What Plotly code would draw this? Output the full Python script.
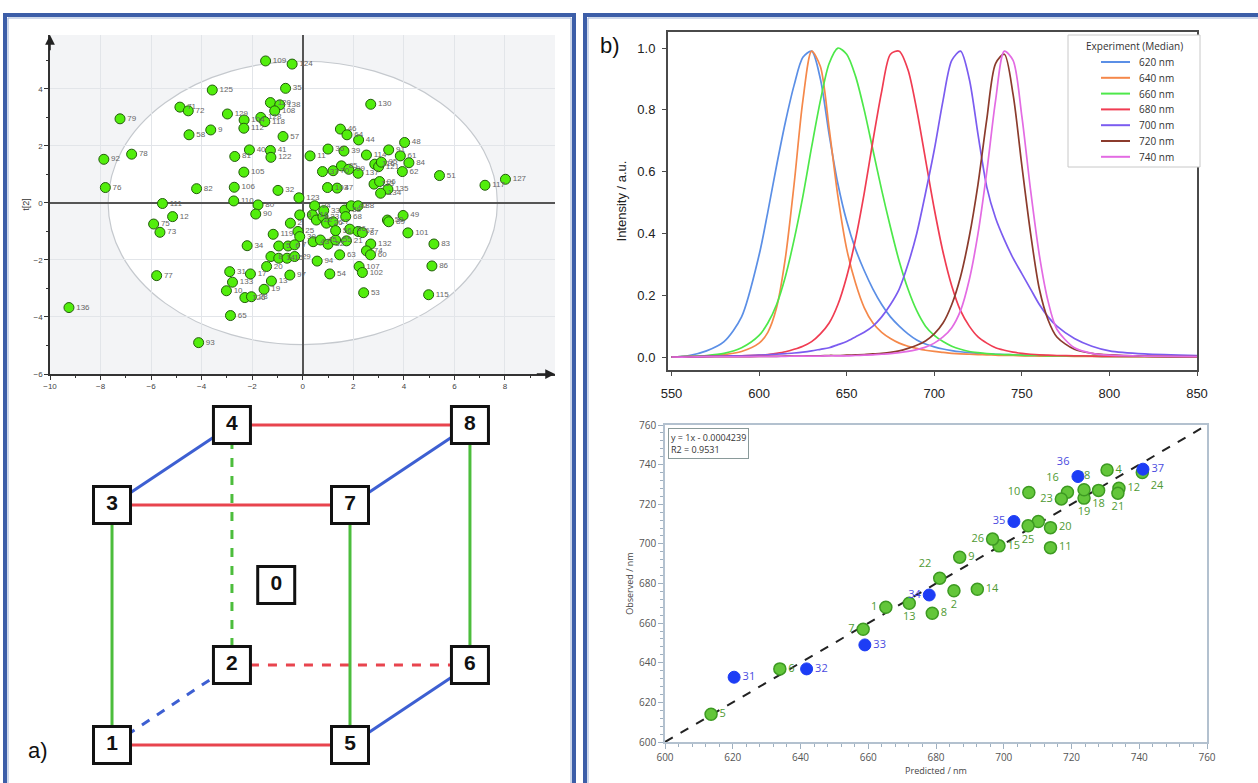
import plotly.graph_objects as go

W, H = 1258, 783
FONT = "Liberation Sans, Arial, sans-serif"
FONT2 = "Open Sans, Liberation Sans, sans-serif"

# ---------------- Panel a (top): PCA score plot ----------------
score_id = ['109', '124', '125', '35', '79', '71', '72', '129', '104', '128', '118', '120', '138', '108',
            '112', '58', '9', '57', '40', '41', '122', '81', '92', '78', '105', '76', '82', '106', '32',
            '110', '111', '80', '90', '12', '75', '73', '34', '119', '77', '31', '17', '133', '10', '126',
            '28', '19', '13', '20', '136', '65', '93', '97',
            '2', '3', '25', '30', '5', '6', '7', '8', '14', '15', '29',
            '123', '24', '16', '22', '23', '26', '27', '33', '38', '68', '42', '88', '43', '45', '52', '55',
            '56', '21', '66', '67', '87', '63', '132', '74', '60', '94', '54', '107', '102', '53', '50',
            '89', '49', '101', '83', '86', '115',
            '130', '46', '64', '44', '48', '11', '36', '39', '114', '91', '61', '84', '62', '116', '121',
            '95', '37', '70', '85', '99', '137', '51', '117', '127', '103', '47', '113', '96', '135', '134']
score_t1 = [-1.47, -0.42, -3.58, -0.68, -7.23, -4.86, -4.53, -2.98, -2.32, -1.66, -1.50, -1.28, -0.91, -1.11,
            -2.33, -4.50, -3.64, -0.78, -2.11, -1.28, -1.26, -2.69, -7.87, -6.77, -2.33, -7.81, -4.20, -2.71,
            -0.98, -2.73, -5.55, -1.77, -1.86, -5.15, -5.90, -5.65, -2.20, -1.17, -5.78, -2.89, -2.07, -2.78,
            -3.02, -2.29, -2.03, -1.53, -1.24, -1.43, -9.25, -2.86, -4.12, -0.51,
            -0.49, -0.12, -0.19, -0.12, -0.95, -0.58, -0.32, -1.26, -0.95, -0.62, -0.32,
            -0.15, 0.47, 0.38, 0.54, 0.80, 0.94, 1.20, 0.83, 1.66, 1.70, 1.92, 2.19, 0.41, 0.70, 1.00, 1.30,
            1.30, 1.73, 1.86, 2.19, 2.36, 1.46, 2.69, 2.52, 2.68, 0.57, 1.07, 2.23, 2.36, 2.41, 3.35,
            3.40, 3.97, 4.16, 5.19, 5.11, 4.98,
            2.69, 1.49, 1.75, 2.21, 4.03, 0.29, 1.00, 1.63, 2.52, 3.40, 3.86, 4.20, 3.94, 2.85, 3.00,
            3.11, 0.78, 1.20, 1.53, 1.82, 2.19, 5.41, 7.21, 8.02, 0.98, 1.36, 2.82, 3.04, 3.37, 3.08]
score_t2 = [4.98, 4.87, 3.96, 4.02, 2.95, 3.36, 3.23, 3.12, 2.91, 3.00, 2.85, 3.52, 3.44, 3.23,
            2.62, 2.39, 2.56, 2.33, 1.86, 1.84, 1.60, 1.63, 1.53, 1.71, 1.08, 0.54, 0.50, 0.55,
            0.44, 0.07, -0.02, -0.07, -0.39, -0.48, -0.74, -1.03, -1.50, -1.10, -2.55, -2.41, -2.49, -2.78,
            -3.08, -3.32, -3.29, -3.03, -2.74, -2.23, -3.67, -3.95, -4.90, -2.53,
            -0.71, -0.42, -1.00, -1.18, -1.51, -1.51, -1.47, -1.88, -1.94, -1.94, -1.88,
            0.18, -0.10, -0.42, -0.60, -0.48, -0.71, -0.66, -0.27, -0.25, -0.48, -0.10, -0.10, -1.36, -1.30,
            -1.45, -1.30, -0.97, -1.33, -0.92, -1.00, -1.04, -1.82, -1.44, -1.68, -1.82, -2.04, -2.49, -2.23,
            -2.44, -3.15, -0.60, -0.66, -0.44, -1.05, -1.44, -2.21, -3.22,
            3.46, 2.59, 2.39, 2.21, 2.12, 1.65, 1.89, 1.82, 1.68, 1.86, 1.65, 1.41, 1.10, 1.36, 1.27,
            1.43, 1.10, 1.13, 1.30, 1.18, 1.04, 0.96, 0.62, 0.83, 0.54, 0.52, 0.66, 0.75, 0.48, 0.34]
score_xticks = [-10, -8, -6, -4, -2, 0, 2, 4, 6, 8]
score_yticks = [-6, -4, -2, 0, 2, 4]
ellipse_t1 = 7.7   # Hotelling T2 semi-axes
ellipse_t2 = 4.97

# ---------------- Panel a (bottom): design cube ----------------
cube_run = ['1', '2', '3', '4', '5', '6', '7', '8', '0']
cube_px = [0, 0.504, 0, 0.504, 1, 1.504, 1, 1.504, 0.69]
cube_py = [0, 0.333, 1, 1.333, 0, 0.333, 1, 1.333, 0.667]
edge_from = ['4', '3', '1', '2', '3', '7', '5', '1', '1', '5', '6', '2']
edge_to = ['8', '7', '5', '6', '4', '8', '6', '2', '3', '7', '8', '4']
edge_kind = ['red', 'red', 'red', 'red', 'blue', 'blue', 'blue', 'blue', 'green', 'green', 'green', 'green']
edge_dash = ['solid', 'solid', 'solid', 'dash', 'solid', 'solid', 'solid', 'dash', 'solid', 'solid', 'solid', 'dash']

# ---------------- Panel b (top): emission spectra ----------------
wl = [550, 560, 570, 580, 590, 600, 605, 610, 615, 620, 625, 630, 635, 640, 645, 650, 655, 660, 665, 670,
      675, 680, 685, 690, 695, 700, 705, 710, 715, 720, 725, 730, 735, 740, 745, 750, 755, 760, 765, 770,
      780, 790, 800, 820, 850]
spec_names = ['620 nm', '640 nm', '660 nm', '680 nm', '700 nm', '720 nm', '740 nm']
spec_620 = [0.0, 0.005, 0.02, 0.05, 0.13, 0.33, 0.47, 0.62, 0.76, 0.88, 0.97, 0.99, 0.90, 0.72, 0.56, 0.44,
            0.35, 0.28, 0.22, 0.17, 0.13, 0.10, 0.075, 0.055, 0.042, 0.033, 0.026, 0.021, 0.017, 0.014, 0.012,
            0.010, 0.009, 0.008, 0.007, 0.006, 0.005, 0.005, 0.004, 0.004, 0.003, 0.003, 0.002, 0.002, 0.001]
spec_640 = [0.0, 0.002, 0.004, 0.008, 0.018, 0.045, 0.08, 0.16, 0.32, 0.56, 0.83, 0.99, 0.94, 0.74, 0.52, 0.35,
            0.24, 0.16, 0.11, 0.08, 0.06, 0.045, 0.035, 0.028, 0.022, 0.018, 0.015, 0.012, 0.010, 0.009, 0.008,
            0.007, 0.006, 0.005, 0.005, 0.004, 0.004, 0.003, 0.003, 0.003, 0.002, 0.002, 0.002, 0.001, 0.001]
spec_660 = [0.0, 0.002, 0.005, 0.012, 0.03, 0.07, 0.11, 0.17, 0.26, 0.38, 0.52, 0.68, 0.83, 0.95, 1.0, 0.98,
            0.91, 0.80, 0.67, 0.54, 0.42, 0.31, 0.22, 0.15, 0.10, 0.07, 0.05, 0.035, 0.025, 0.018, 0.014,
            0.011, 0.009, 0.008, 0.007, 0.006, 0.005, 0.005, 0.004, 0.004, 0.003, 0.003, 0.002, 0.002, 0.001]
spec_680 = [0.0, 0.001, 0.002, 0.003, 0.004, 0.006, 0.008, 0.012, 0.017, 0.025, 0.035, 0.05, 0.075, 0.11, 0.17,
            0.26, 0.38, 0.53, 0.70, 0.86, 0.98, 0.99, 0.93, 0.80, 0.64, 0.48, 0.34, 0.23, 0.15, 0.10, 0.065,
            0.045, 0.03, 0.022, 0.016, 0.012, 0.009, 0.007, 0.006, 0.005, 0.004, 0.003, 0.002, 0.002, 0.001]
spec_700 = [0.0, 0.001, 0.002, 0.003, 0.004, 0.006, 0.007, 0.009, 0.011, 0.013, 0.016, 0.02, 0.025, 0.03, 0.04,
            0.05, 0.065, 0.08, 0.10, 0.13, 0.17, 0.22, 0.30, 0.40, 0.53, 0.67, 0.83, 0.96, 0.99, 0.90, 0.72,
            0.55, 0.45, 0.38, 0.32, 0.27, 0.22, 0.17, 0.13, 0.10, 0.06, 0.035, 0.02, 0.01, 0.005]
spec_720 = [0.0, 0.0, 0.001, 0.001, 0.001, 0.002, 0.002, 0.002, 0.003, 0.003, 0.003, 0.004, 0.004, 0.005, 0.005,
            0.006, 0.007, 0.008, 0.010, 0.012, 0.015, 0.02, 0.028, 0.038, 0.052, 0.075, 0.11, 0.17, 0.26, 0.39,
            0.56, 0.77, 0.95, 0.98, 0.85, 0.62, 0.40, 0.22, 0.12, 0.065, 0.025, 0.012, 0.007, 0.003, 0.001]
spec_740 = [0.0, 0.0, 0.001, 0.001, 0.001, 0.002, 0.002, 0.002, 0.002, 0.003, 0.003, 0.003, 0.003, 0.004, 0.004,
            0.004, 0.005, 0.006, 0.007, 0.009, 0.011, 0.014, 0.018, 0.024, 0.032, 0.045, 0.065, 0.095, 0.15,
            0.25, 0.40, 0.60, 0.83, 0.99, 0.96, 0.78, 0.54, 0.33, 0.18, 0.09, 0.03, 0.012, 0.006, 0.003, 0.001]
spec_x_ticks = [550, 600, 650, 700, 750, 800, 850]
spec_y_ticks = [0.0, 0.2, 0.4, 0.6, 0.8, 1.0]
legend_title = 'Experiment (Median)'

# ---------------- Panel b (bottom): predicted vs observed ----------------
green_id = ['1', '2', '4', '5', '6', '7', '8', '9', '10', '11', '12', '13', '14', '15', '16', '', '18', '19',
            '20', '21', '22', '23', '24', '25', '26', '28']
green_pred = [665.2, 685.3, 730.5, 613.6, 633.9, 658.5, 678.9, 687.0, 707.4, 713.8, 734.0, 672.1, 692.2, 698.6,
              718.8, 710.2, 728.0, 723.7, 713.8, 733.7, 681.1, 717.0, 740.9, 707.2, 696.7, 723.7]
green_obs = [668.0, 676.3, 737.3, 614.0, 636.9, 656.9, 665.0, 693.3, 725.9, 698.1, 728.1, 670.0, 677.1, 699.0,
             726.1, 711.3, 727.0, 723.1, 708.2, 725.6, 682.7, 722.7, 736.0, 709.1, 702.4, 727.3]
blue_id = ['31', '32', '33', '34', '35', '36', '37']
blue_pred = [620.4, 641.8, 659.0, 678.0, 703.0, 721.9, 741.1]
blue_obs = [632.7, 636.9, 649.0, 674.2, 711.3, 734.0, 737.7]
fit_slope = 1.0
fit_intercept = -0.0004239
fit_r2 = 0.9531
pp_ticks = [600, 620, 640, 660, 680, 700, 720, 740, 760]

# ---------------- style lists ----------------
green_textpos = ['middle left', 'bottom center', 'middle right', 'middle right', 'middle right', 'middle left',
                 'middle right', 'middle right', 'middle left', 'middle right', 'middle right', 'bottom center',
                 'middle right', 'middle right', 'top left', 'middle right', 'bottom center', 'bottom center',
                 'middle right', 'bottom center', 'top left', 'middle left', 'bottom right', 'bottom center',
                 'middle left', 'top center']
blue_textpos = ['middle right', 'middle right', 'middle right', 'middle left', 'middle left', 'top left',
                'middle right']
spec_colors = ['#5b8fe6', '#f5884a', '#4de84a', '#f03c52', '#7b5cf0', '#8b3b2c', '#e36be3']
edge_colors = {'red': '#e8444e', 'blue': '#3d5fd2', 'green': '#4cbd3c'}


# helpers: picture pixels -> paper fractions
def fx(px):
    return px / W


def fy(py):
    return 1 - py / H


def dom_x(a, b):
    return [fx(a), fx(b)]


def dom_y(top, bottom):
    return [max(0.0, fy(bottom)), min(1.0, fy(top))]


fig = go.Figure()

# score plot
fig.add_trace(go.Scatter(
    x=score_t1, y=score_t2, text=score_id, mode='markers+text', textposition='middle right',
    textfont=dict(size=8, color='#666', family=FONT),
    marker=dict(size=10, color='#52ee0c', line=dict(color='#235d0c', width=1)),
    xaxis='x', yaxis='y', showlegend=False, hoverinfo='skip'))

# cube edges
pos = {r: (cube_px[i], cube_py[i]) for i, r in enumerate(cube_run)}
for a, b, k, d in zip(edge_from, edge_to, edge_kind, edge_dash):
    fig.add_trace(go.Scatter(
        x=[pos[a][0], pos[b][0]], y=[pos[a][1], pos[b][1]], mode='lines',
        line=dict(color=edge_colors[k], width=3, dash=d),
        xaxis='x4', yaxis='y4', showlegend=False, hoverinfo='skip'))
fig.add_trace(go.Scatter(
    x=cube_px, y=cube_py, text=['<b>%s</b>' % r for r in cube_run], mode='markers+text',
    textposition='middle center', textfont=dict(size=21, color='#111', family=FONT),
    marker=dict(symbol='square', size=37, color='white', line=dict(color='#111', width=3)),
    xaxis='x4', yaxis='y4', showlegend=False, hoverinfo='skip'))

# spectra
spec_series = [spec_620, spec_640, spec_660, spec_680, spec_700, spec_720, spec_740]
for name, ys, col in zip(spec_names, spec_series, spec_colors):
    fig.add_trace(go.Scatter(
        x=wl, y=ys, name=name, mode='lines', line=dict(color=col, width=1.7, shape='spline', smoothing=0.8),
        xaxis='x2', yaxis='y2', showlegend=False, hoverinfo='skip'))

# predicted vs observed
fig.add_trace(go.Scatter(
    x=pp_ticks[:1] + pp_ticks[-1:],
    y=[fit_slope * v + fit_intercept for v in (pp_ticks[0], pp_ticks[-1])],
    mode='lines', line=dict(color='#222', width=2, dash='dash'),
    xaxis='x3', yaxis='y3', showlegend=False, hoverinfo='skip'))
fig.add_trace(go.Scatter(
    x=green_pred, y=green_obs, text=green_id, mode='markers+text', textposition=green_textpos,
    textfont=dict(size=11, color='#4f9a33', family=FONT2),
    marker=dict(size=12, color='#63c63a', line=dict(color='#3d9a22', width=1.5)),
    xaxis='x3', yaxis='y3', showlegend=False, hoverinfo='skip'))
fig.add_trace(go.Scatter(
    x=blue_pred, y=blue_obs, text=blue_id, mode='markers+text', textposition=blue_textpos,
    textfont=dict(size=11, color='#4a4ae0', family=FONT2),
    marker=dict(size=12, color='#1d3df5', line=dict(color='#1d3df5', width=1)),
    xaxis='x3', yaxis='y3', showlegend=False, hoverinfo='skip'))

score_ax = dict(showline=True, linecolor='#333', linewidth=1.5, ticks='outside', ticklen=4, tickcolor='#333',
                tickfont=dict(size=8, color='#444', family=FONT), showgrid=True, gridcolor='#e2e5e9',
                zeroline=True, zerolinecolor='#555', zerolinewidth=1.5, dtick=2, tick0=0,
                minor=dict(ticks='outside', ticklen=2, tickcolor='#333', dtick=1, showgrid=False),
                fixedrange=True, automargin=False)
spec_ax = dict(showline=True, mirror=True, linecolor='#4a4a4a', linewidth=2, ticks='outside', ticklen=4,
               tickcolor='#4a4a4a', tickfont=dict(size=13, color='#222', family=FONT), showgrid=False,
               zeroline=False, fixedrange=True, automargin=False)
pp_ax = dict(showline=True, mirror=True, linecolor='#b3c1cf', linewidth=1.5, ticks='outside', ticklen=5,
             tickcolor='#9fb0c0', tickfont=dict(size=10, color='#555', family=FONT2), showgrid=False,
             zeroline=False, tickvals=pp_ticks, range=[600, 760], fixedrange=True, automargin=False,
             minor=dict(ticks='outside', ticklen=3, tickcolor='#9fb0c0', dtick=4, tick0=600))

fig.update_layout(
    width=W, height=H, autosize=False, margin=dict(l=0, r=0, t=0, b=0, autoexpand=False),
    paper_bgcolor='white', plot_bgcolor='white', font=dict(family=FONT), showlegend=False,
    xaxis=dict(domain=dom_x(50, 555), range=[-10, 9.98], anchor='y', **score_ax),
    yaxis=dict(domain=dom_y(35, 374), range=[-6, 5.89], anchor='x',
               title=dict(text='t[2]', font=dict(size=9, color='#333'), standoff=2), **score_ax),
    xaxis2=dict(domain=dom_x(668, 1197), range=[548, 850], anchor='y2', tickvals=spec_x_ticks,
                ticklabelstandoff=6, **spec_ax),
    yaxis2=dict(domain=dom_y(32, 370), range=[-0.042, 1.052], anchor='x2', tickvals=spec_y_ticks,
                tickformat='.1f', ticklabelstandoff=4,
                title=dict(text='Intensity / a.u.', font=dict(size=13, color='#222'), standoff=8), **spec_ax),
    xaxis3=dict(domain=dom_x(665, 1207), anchor='y3',
                title=dict(text='Predicted / nm', font=dict(size=9, color='#444', family=FONT2), standoff=4),
                **pp_ax),
    yaxis3=dict(domain=dom_y(425, 742), anchor='x3',
                title=dict(text='Observed / nm', font=dict(size=9, color='#444', family=FONT2), standoff=4),
                **pp_ax),
    xaxis4=dict(domain=dom_x(12, 572), range=[-0.4202, 1.9328], anchor='y4', visible=False, fixedrange=True,
                automargin=False),
    yaxis4=dict(domain=dom_y(395, 783), range=[-0.1583, 1.4583], anchor='x4', visible=False, fixedrange=True,
                automargin=False),
)

# score plot background and Hotelling ellipse
fig.add_shape(type='rect', xref='x', yref='y', x0=-10, x1=9.98, y0=-6, y1=5.89,
              fillcolor='#f3f4f6', line=dict(width=0), layer='below')
fig.add_shape(type='circle', xref='x', yref='y', x0=-ellipse_t1, x1=ellipse_t1, y0=-ellipse_t2, y1=ellipse_t2,
              fillcolor='white', line=dict(color='#c5c9ce', width=1.2), layer='below')
# axis arrows
fig.add_annotation(x=9.98, y=-6, ax=9.2, ay=-6, xref='x', yref='y', axref='x', ayref='y', text='',
                   showarrow=True, arrowhead=2, arrowsize=1.3, arrowwidth=1.5, arrowcolor='#222')
fig.add_annotation(x=-10, y=5.89, ax=-10, ay=5.3, xref='x', yref='y', axref='x', ayref='y', text='',
                   showarrow=True, arrowhead=2, arrowsize=1.3, arrowwidth=1.5, arrowcolor='#222')

# spectra legend (compact box)
fig.add_shape(type='rect', xref='paper', yref='paper', x0=fx(1068), x1=fx(1200), y0=fy(167), y1=fy(35),
              fillcolor='white', line=dict(color='#c8c8c8', width=1), layer='above')
fig.add_annotation(x=fx(1134), y=fy(46), xref='paper', yref='paper', xanchor='center', yanchor='middle',
                   text=legend_title, showarrow=False, font=dict(size=10, color='#333', family=FONT2))
for i, (name, col) in enumerate(zip(spec_names, spec_colors)):
    yy = 62 + i * 15.8
    fig.add_shape(type='line', xref='paper', yref='paper', x0=fx(1101), x1=fx(1130), y0=fy(yy), y1=fy(yy),
                  line=dict(color=col, width=2), layer='above')
    fig.add_annotation(x=fx(1137), y=fy(yy), xref='paper', yref='paper', xanchor='left', yanchor='middle',
                       text=name, showarrow=False, font=dict(size=10, color='#333', family=FONT2))

# regression box
fig.add_annotation(x=fx(668), y=fy(428), xref='paper', yref='paper', xanchor='left', yanchor='top',
                   text='y = %gx - %s<br>R2 = %s' % (fit_slope, '0.0004239', fit_r2), showarrow=False,
                   align='left', font=dict(size=9, color='#333', family=FONT2), bordercolor='#8a9a9a',
                   borderwidth=1, borderpad=2, bgcolor='white')

# panel labels
fig.add_annotation(x=fx(26), y=fy(750), xref='paper', yref='paper', xanchor='left', yanchor='middle',
                   text='a)', showarrow=False, font=dict(size=22, color='#111', family=FONT))
fig.add_annotation(x=fx(598), y=fy(45), xref='paper', yref='paper', xanchor='left', yanchor='middle',
                   text='b)', showarrow=False, font=dict(size=22, color='#111', family=FONT))

# panel frames
for x0, x1 in [(5, 574), (585, 1262)]:
    fig.add_shape(type='rect', xref='paper', yref='paper', x0=fx(x0), x1=fx(x1), y0=fy(800), y1=fy(15),
                  line=dict(color='#3c5ea8', width=4), fillcolor='rgba(0,0,0,0)', layer='above')
    fig.add_shape(type='rect', xref='paper', yref='paper', x0=fx(x0 + 3), x1=fx(x1 - 3), y0=fy(800),
                  y1=fy(18), line=dict(color='#9fb2d6', width=1), fillcolor='rgba(0,0,0,0)', layer='above')

fig.write_html("out.html", config={'responsive': False, 'displayModeBar': False},
               post_script="document.body.style.margin='0';document.body.style.overflow='hidden';")
